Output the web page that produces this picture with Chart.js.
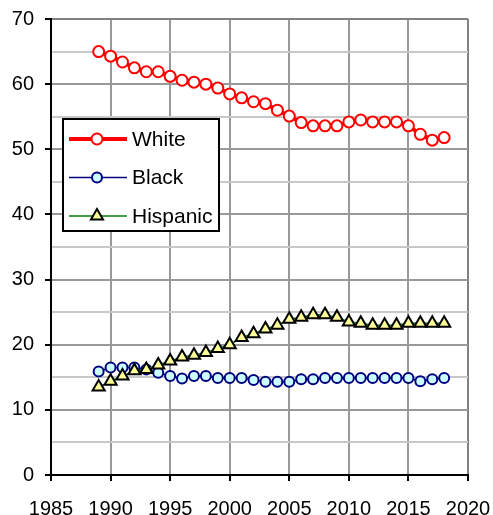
<!DOCTYPE html>
<html>
<head>
<meta charset="utf-8">
<script src="https://cdn.jsdelivr.net/npm/chart.js@4.4.1/dist/chart.umd.min.js"></script>
<style>
  html, body { margin: 0; padding: 0; background: #fff; }
  #wrap { width: 493px; height: 515px; }
</style>
</head>
<body>
<div id="wrap"><canvas id="myChart" width="493" height="515"></canvas></div>
<script>
// Data
var years = [1989, 1990, 1991, 1992, 1993, 1994, 1995, 1996, 1997, 1998, 1999,
             2000, 2001, 2002, 2003, 2004, 2005, 2006, 2007, 2008, 2009,
             2010, 2011, 2012, 2013, 2014, 2015, 2016, 2017, 2018];
var white = [65.0, 64.3, 63.4, 62.5, 61.9, 61.9, 61.2, 60.6, 60.3, 60.0, 59.4,
             58.5, 57.9, 57.3, 57.0, 56.0, 55.1, 54.1, 53.6, 53.6, 53.6,
             54.2, 54.5, 54.2, 54.2, 54.2, 53.6, 52.3, 51.4, 51.8];
var black = [15.9, 16.5, 16.5, 16.5, 16.2, 15.7, 15.2, 14.8, 15.2, 15.2, 14.9,
             14.9, 14.9, 14.6, 14.3, 14.3, 14.3, 14.7, 14.7, 14.9, 14.9,
             14.9, 14.9, 14.9, 14.9, 14.9, 14.9, 14.4, 14.7, 14.9];
var hispanic = [13.5, 14.4, 15.2, 16.0, 16.2, 16.9, 17.5, 18.1, 18.4, 18.8, 19.4,
                20.0, 21.1, 21.7, 22.4, 23.0, 23.9, 24.2, 24.6, 24.6, 24.2,
                23.5, 23.3, 23.0, 23.0, 23.0, 23.3, 23.3, 23.3, 23.3];
var xTicks = [1985, 1990, 1995, 2000, 2005, 2010, 2015, 2020];
var yTicks = [0, 10, 20, 30, 40, 50, 60, 70];

function pts(vals) {
    return vals.map(function(v, i) { return { x: years[i], y: v }; });
}

var FONT = "'Liberation Sans', Arial, sans-serif";

// legend drawn inside the plot area, with a box round it
var boxLegend = {
    id: 'boxLegend',
    afterDatasetsDraw: function(chart) {
        var ctx = chart.ctx, area = chart.chartArea;
        var x0 = area.left + 12, y0 = area.top + 100, w = 156, h = 112;
        ctx.save();
        ctx.fillStyle = '#fff';
        ctx.fillRect(x0, y0, w, h);
        ctx.strokeStyle = '#000';
        ctx.lineWidth = 2;
        ctx.strokeRect(x0, y0, w, h);
        ctx.font = '21px ' + FONT;
        ctx.textBaseline = 'middle';
        chart.data.datasets.forEach(function(ds, i) {
            var cy = y0 + 20 + i * 38.5;
            ctx.strokeStyle = ds.borderColor;
            ctx.lineWidth = ds.borderWidth;
            ctx.beginPath();
            ctx.moveTo(x0 + 6, cy);
            ctx.lineTo(x0 + 64, cy);
            ctx.stroke();
            var mx = x0 + 34;
            ctx.fillStyle = ds.pointBackgroundColor;
            ctx.strokeStyle = ds.pointBorderColor;
            ctx.lineWidth = ds.pointBorderWidth;
            ctx.beginPath();
            if (ds.pointStyle === 'triangle') {
                var r = ds.pointRadius;
                ctx.moveTo(mx, cy - r);
                ctx.lineTo(mx + r * 0.866, cy + r / 2);
                ctx.lineTo(mx - r * 0.866, cy + r / 2);
                ctx.closePath();
            } else {
                ctx.arc(mx, cy, ds.pointRadius, 0, Math.PI * 2);
            }
            ctx.fill();
            ctx.stroke();
            ctx.fillStyle = '#000';
            ctx.fillText(ds.label, x0 + 69, cy + 1);
        });
        ctx.restore();
    }
};

var ctx = document.getElementById('myChart').getContext('2d');
new Chart(ctx, {
    type: 'line',
    data: {
        datasets: [{
            label: 'White',
            data: pts(white),
            borderColor: '#ff0000',
            borderWidth: 4,
            pointStyle: 'circle',
            pointRadius: 5.5,
            pointBackgroundColor: '#ffffff',
            pointBorderColor: '#ff0000',
            pointBorderWidth: 2,
            order: 0
        }, {
            label: 'Black',
            data: pts(black),
            borderColor: '#000080',
            borderWidth: 1.5,
            pointStyle: 'circle',
            pointRadius: 5,
            pointBackgroundColor: '#ccffff',
            pointBorderColor: '#000080',
            pointBorderWidth: 2,
            order: 2
        }, {
            label: 'Hispanic',
            data: pts(hispanic),
            borderColor: '#008000',
            borderWidth: 1.5,
            pointStyle: 'triangle',
            pointRadius: 7,
            pointBackgroundColor: '#ffff99',
            pointBorderColor: '#000000',
            pointBorderWidth: 2,
            order: 1
        }]
    },
    options: {
        responsive: false,
        animation: false,
        layout: { padding: { top: 19, right: 25, left: 0, bottom: 0 } },
        plugins: {
            legend: { display: false },
            tooltip: { enabled: false }
        },
        scales: {
            x: {
                type: 'linear',
                min: 1985,
                max: 2020,
                afterBuildTicks: function(scale) {
                    scale.ticks = xTicks.map(function(v) { return { value: v }; });
                },
                afterFit: function(scale) {
                    scale.height = 40;
                    scale.paddingLeft = 0;
                    scale.paddingRight = 0;
                },
                border: { color: '#000', width: 2 },
                grid: {
                    color: function(c) { return c.tick && c.tick.value === 2020 ? '#808080' : '#999999'; },
                    lineWidth: 2,
                    tickColor: '#000',
                    tickLength: 6,
                    tickWidth: 2
                },
                ticks: {
                    padding: 16,
                    color: '#000',
                    font: { family: FONT, size: 20 },
                    maxRotation: 0,
                    callback: function(v) { return String(v); }
                }
            },
            y: {
                min: 0,
                max: 70,
                afterBuildTicks: function(scale) {
                    var t = [];
                    for (var v = 0; v <= 70; v += 5) t.push({ value: v });
                    scale.ticks = t;
                },
                afterFit: function(scale) {
                    scale.width = 51;
                    scale.paddingTop = 0;
                    scale.paddingBottom = 0;
                },
                border: { color: '#000', width: 2 },
                grid: {
                    color: function(c) {
                        var v = c.tick ? c.tick.value : 0;
                        if (v === 70) return '#808080';
                        return v % 10 === 0 ? '#999999' : '#c8c8c8';
                    },
                    lineWidth: 2,
                    tickColor: function(c) {
                        return c.tick && yTicks.indexOf(c.tick.value) >= 0 ? '#000' : 'rgba(0,0,0,0)';
                    },
                    tickLength: 6,
                    tickWidth: 2
                },
                ticks: {
                    padding: 11,
                    color: '#000',
                    font: { family: FONT, size: 20 },
                    callback: function(v) { return yTicks.indexOf(v) >= 0 ? String(v) : ''; }
                }
            }
        }
    },
    plugins: [boxLegend]
});
</script>
</body>
</html>
